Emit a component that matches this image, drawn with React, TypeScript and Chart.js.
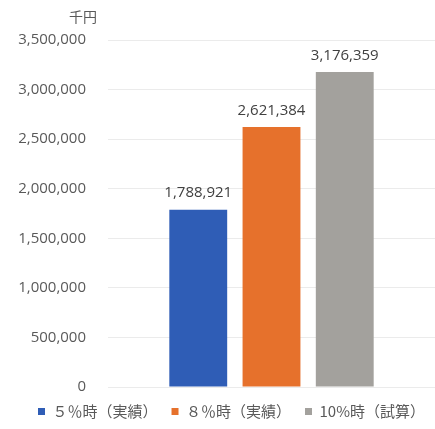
import React, { useEffect, useRef } from "react";
import { Chart, registerables } from "chart.js";

Chart.register(...registerables);

const categories = [""];
const seriesNames = ["５％時（実績）", "８％時（実績）", "10%時（試算）"];
const seriesValues = [1788921, 2621384, 3176359];
const seriesColors = ["#2f5db6", "#e6712c", "#a3a19d"];
const yTicks = [0, 500000, 1000000, 1500000, 2000000, 2500000, 3000000, 3500000];
const unitLabel = "千円";

const fmt = (v: number) => v.toLocaleString("en-US");

const labelPlugin = {
  id: "valueLabels",
  afterLayout(chart: any) {
    const lg = chart.legend;
    if (lg) {
      lg.top -= 5;
      lg.bottom -= 5;
      lg.left += 10;
      lg.right += 10;
    }
  },
  afterDatasetsDraw(chart: any) {
    const ctx = chart.ctx;
    ctx.save();
    ctx.font = "15px 'Open Sans'";
    ctx.fillStyle = "#404040";
    ctx.textAlign = "center";
    ctx.textBaseline = "bottom";
    chart.data.datasets.forEach((ds: any, i: number) => {
      const meta = chart.getDatasetMeta(i);
      meta.data.forEach((el: any, j: number) => {
        ctx.fillText(fmt(ds.data[j]), el.x, el.y - 9);
      });
    });
    ctx.font = "14px 'Noto Sans CJK JP'";
    ctx.fillStyle = "#595959";
    ctx.textAlign = "right";
    ctx.textBaseline = "middle";
    ctx.fillText(unitLabel, 97, 17);
    ctx.restore();
  },
};

export default function App() {
  const ref = useRef<HTMLCanvasElement>(null);
  useEffect(() => {
    const chart = new Chart(ref.current!, {
      type: "bar",
      data: {
        labels: categories,
        datasets: seriesNames.map((n, i) => ({
          label: n,
          data: [seriesValues[i]],
          backgroundColor: seriesColors[i],
          borderWidth: 0,
          categoryPercentage: 0.672,
          barPercentage: 0.79,
        })),
      },
      options: {
        animation: false,
        responsive: true,
        maintainAspectRatio: false,
        layout: { padding: { left: 8, right: 0, top: 40, bottom: -5 } },
        plugins: {
          legend: {
            position: "bottom",
            labels: {
              boxWidth: 7,
              boxHeight: 7,
              padding: 14,
              color: "#595959",
              font: { family: "'Noto Sans CJK JP'", size: 15 },
            },
          },
          tooltip: { enabled: false },
        },
        scales: {
          x: {
            ticks: { display: false },
            grid: { display: false },
            border: { display: false },
          },
          y: {
            min: 0,
            max: 3500000,
            afterBuildTicks: (s: any) => {
              s.ticks = yTicks.map((v) => ({ value: v }));
            },
            afterFit: (s: any) => {
              s.width = 100;
            },
            ticks: {
              padding: 22,
              color: "#595959",
              font: { family: "'Open Sans'", size: 15 },
              callback: (v: any) => fmt(Number(v)),
            },
            grid: { color: "#ebebeb", drawTicks: false },
            border: { display: false },
          },
        },
      },
      plugins: [labelPlugin],
    });
    return () => chart.destroy();
  }, []);
  return (
    <div style={{ position: "fixed", left: 0, top: 0, width: 435, height: 429, background: "#fff" }}>
      <canvas ref={ref} />
    </div>
  );
}
